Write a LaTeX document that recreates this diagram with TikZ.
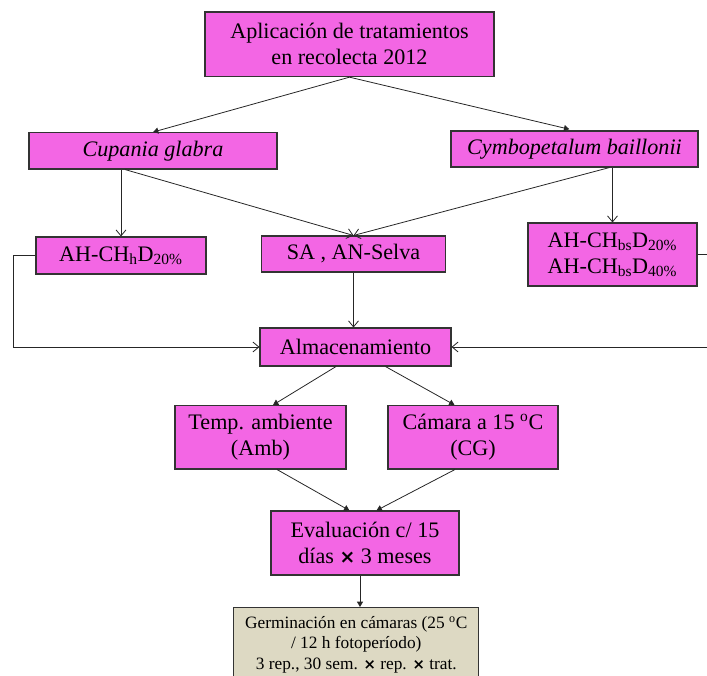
\documentclass[tikz,border=0pt]{standalone}
\usepackage{fontspec}
\setmainfont{Liberation Serif}
\newfontfamily\markfont{DejaVu Sans}
\usetikzlibrary{arrows.meta,calc}
\definecolor{boxpink}{RGB}{243,102,228}
\definecolor{boxtan}{RGB}{221,217,195}
\newcommand{\timesmark}{{\markfont\bfseries\scalebox{0.85}{×}}}

\begin{document}
\begin{tikzpicture}[x=0.75pt,y=-0.75pt,
    stepbox/.style={draw=black!80,line width=0.8pt,fill=boxpink,inner sep=0pt,
      align=center,font=\fontsize{16.6}{19.5}\selectfont},
    lnk/.style={draw=black!85,line width=0.6pt},
    opentip/.style={lnk,-{Straight Barb[length=4.5pt,width=7.5pt]}},
    filltip/.style={lnk,-{Triangle[length=4pt,width=4.5pt]}}]
  \useasboundingbox (0,0) rectangle (707,675);
  % boxes
  \node[stepbox,minimum width=216.75pt,minimum height=48.5pt] (apl) at (349.5,44.3)
    {Aplicación de tratamientos\\en recolecta 2012};
  \node[stepbox,minimum width=186pt,minimum height=27.3pt] (cup) at (153,150.8)
    {\textit{Cupania glabra}};
  \node[stepbox,minimum width=185.25pt,minimum height=27pt] (cym) at (574.5,149)
    {\textit{Cymbopetalum baillonii}};
  \node[stepbox,minimum width=127.5pt,minimum height=27.75pt] (ahh) at (121,255.5)
    {AH-CH\textsubscript{h}D\textsubscript{20\%}};
  \node[stepbox,minimum width=138pt,minimum height=27pt] (sa) at (353.5,254)
    {SA , AN-Selva};
  \node[stepbox,minimum width=126.75pt,minimum height=47.25pt] (ahbs) at (612.5,254.5)
    {AH-CH\textsubscript{bs}D\textsubscript{20\%}\\AH-CH\textsubscript{bs}D\textsubscript{40\%}};
  \node[stepbox,minimum width=143.25pt,minimum height=28.5pt] (alm) at (355.5,347)
    {Almacenamiento};
  \node[stepbox,minimum width=128.25pt,minimum height=47.6pt] (tmp) at (260.5,437.25)
    {Temp. ambiente\\(Amb)};
  \node[stepbox,minimum width=127.5pt,minimum height=47.6pt] (cam) at (473,437.25)
    {Cámara a 15 \textsuperscript{o}C\\(CG)};
  \node[stepbox,minimum width=141pt,minimum height=48pt] (eva) at (365,543)
    {Evaluación c/ 15\\días \timesmark{} 3 meses};
  \node[stepbox,fill=boxtan,anchor=north,minimum width=184pt,inner ysep=6.5pt,text depth=16pt,
    font=\fontsize{13}{15.3}\selectfont] (ger) at (356.25,607)
    {Germinación en cámaras (25 \textsuperscript{o}C\\/ 12 h fotoperíodo)\\3 rep., 30 sem. \timesmark{} rep. \timesmark{} trat.};
  % connectors
  \draw[filltip] (apl.south) -- (cup.north);
  \draw[filltip,shorten >=4pt] (apl.south) -- (cym.north);
  \draw[opentip] (ahh.north |- cup.south) -- (ahh.north);
  \draw[opentip] ($(cup.south)+(-28,0)$) -- (sa.north);
  \draw[opentip] ($(cym.south)+(35,0)$) -- (sa.north);
  \draw[opentip] (ahbs.north |- cym.south) -- (ahbs.north);
  \draw[opentip] (sa.south) -- (sa.south |- alm.north);
  \draw[opentip] (ahh.west) -- ++(-21.6,0) |- (alm.west);
  \draw[opentip] (ahbs.east) -- ++(15,0) |- (alm.east);
  \draw[filltip] ($(alm.south)+(-19.5,0)$) -- ($(tmp.north)+(12.5,0)$);
  \draw[filltip] ($(alm.south)+(30,0)$) -- ($(cam.north)+(-18.5,0)$);
  \draw[filltip] ($(tmp.south)+(16.5,0)$) -- ($(eva.north)+(-15.6,0)$);
  \draw[filltip] ($(cam.south)+(-18,0)$) -- ($(eva.north)+(11.5,0)$);
  \draw[filltip] ($(eva.south)+(-5,0)$) -- ($(ger.north)+(3.75,0)$);
\end{tikzpicture}
\end{document}
